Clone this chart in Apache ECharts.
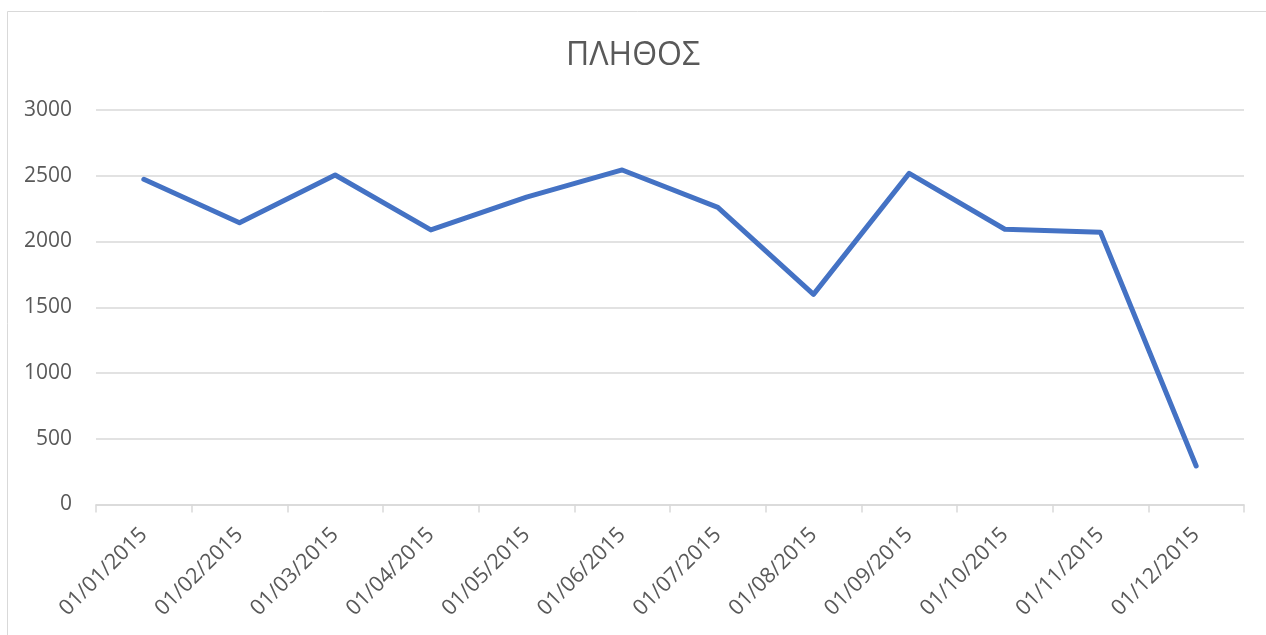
<!DOCTYPE html>
<html>
<head>
<meta charset="utf-8">
<script src="https://cdn.jsdelivr.net/npm/echarts@6/dist/echarts.min.js"></script>
<style>
html,body{margin:0;padding:0;background:#fff;}
#chart{width:1266px;height:635px;}
</style>
</head>
<body>
<div id="chart"></div>
<script>
const chartTitle = 'ΠΛΗΘΟΣ';
const categories = ['01/01/2015','01/02/2015','01/03/2015','01/04/2015','01/05/2015','01/06/2015','01/07/2015','01/08/2015','01/09/2015','01/10/2015','01/11/2015','01/12/2015'];
const values = [2473, 2143, 2506, 2088, 2338, 2544, 2259, 1598, 2518, 2093, 2070, 293];
const yTicks = [0, 500, 1000, 1500, 2000, 2500, 3000];

const FONT = '"Open Sans", "DejaVu Sans", sans-serif';
const chart = echarts.init(document.getElementById('chart'), null, {renderer: 'canvas'});
chart.setOption({
  animation: false,
  backgroundColor: '#ffffff',
  graphic: [{
    type: 'rect',
    shape: {x: 7.5, y: 11.5, width: 1300, height: 700},
    style: {fill: 'none', stroke: '#d9d9d9', lineWidth: 1},
    silent: true
  }],
  title: {
    text: chartTitle,
    left: 'center',
    top: 35,
    textStyle: {fontFamily: FONT, fontSize: 32, fontWeight: 'normal', color: '#595959'}
  },
  grid: {left: 96, right: 22, top: 110, bottom: 130.5, containLabel: false},
  xAxis: {
    type: 'category',
    data: categories,
    boundaryGap: true,
    axisLine: {show: true, lineStyle: {color: '#d9d9d9', width: 1.5}},
    axisTick: {show: true, length: 8, alignWithLabel: false, lineStyle: {color: '#d9d9d9', width: 1.5}},
    axisLabel: {rotate: 45, margin: 27, fontFamily: FONT, fontSize: 21.5, color: '#595959', interval: 0},
    splitLine: {show: false}
  },
  yAxis: {
    type: 'value',
    min: yTicks[0],
    max: yTicks[yTicks.length - 1],
    interval: 500,
    axisLine: {show: false},
    axisTick: {show: false},
    axisLabel: {margin: 24, fontFamily: FONT, fontSize: 21, color: '#595959', formatter: function (v) { return String(v); }},
    splitLine: {lineStyle: {color: '#d9d9d9', width: 1.5}}
  },
  series: [{
    type: 'line',
    data: values,
    symbol: 'none',
    lineStyle: {color: '#4472C4', width: 5, cap: 'round', join: 'round'},
    itemStyle: {color: '#4472C4'}
  }]
});
</script>
</body>
</html>
